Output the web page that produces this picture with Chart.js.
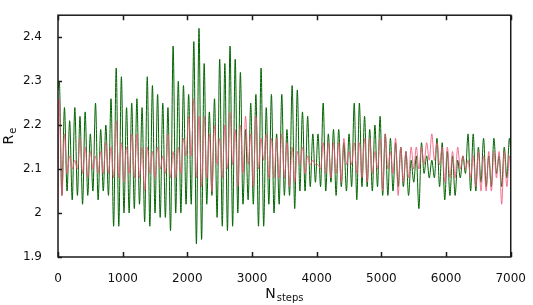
<!DOCTYPE html>
<html>
<head>
<meta charset="utf-8">
<script src="https://cdn.jsdelivr.net/npm/chart.js@4"></script>
<style>
  html, body { margin: 0; padding: 0; background: #fff; }
  #wrap { width: 533px; height: 305px; }
</style>
</head>
<body>
<div id="wrap"><canvas id="reChart"></canvas></div>
<script>
// values: one peak and one trough per ~80 steps
const stepSize = 40;
const greenStart = 2.28;
const greenPeaks = [
  2.30, 2.24, 2.21, 2.24, 2.22, 2.23, 2.18, 2.25, 2.19, 2.20, 2.26, 2.33, 2.31, 2.24, 2.25, 2.26, 2.24, 2.31, 2.29, 2.27, 2.25, 2.24, 2.38, 2.30, 2.29, 2.27, 2.39,
  2.42, 2.34, 2.23, 2.26, 2.35, 2.34, 2.38, 2.35, 2.32, 2.19, 2.25, 2.27, 2.33, 2.24, 2.27, 2.18, 2.27, 2.19, 2.29, 2.28, 2.23, 2.22, 2.18, 2.18, 2.25, 2.18, 2.19, 2.19, 2.16, 2.18, 2.25, 2.25, 2.22, 2.19, 2.20, 2.22, 2.18, 2.17,
  2.16, 2.15, 2.14, 2.12, 2.13, 2.16, 2.13, 2.12, 2.17, 2.16, 2.14, 2.13, 2.12, 2.13, 2.18, 2.18, 2.15, 2.17, 2.13, 2.17, 2.13, 2.15, 2.17
];
const greenTroughs = [
  2.04, 2.05, 2.03, 2.04, 2.02, 2.04, 2.05, 2.03, 2.05, 2.04, 1.97, 1.97, 2.00, 2.00, 2.01, 2.02, 1.98, 1.97, 2.00, 1.99, 1.99, 1.96, 2.00, 2.00, 2.02, 2.02, 1.93,
  1.94, 2.02, 2.04, 1.99, 1.97, 1.96, 1.97, 2.00, 2.02, 2.03, 2.02, 1.97, 1.97, 2.02, 2.00, 2.02, 2.04, 2.04, 2.01, 2.05, 2.05, 2.06, 2.07, 2.06, 2.05, 2.07, 2.04, 2.06, 2.05, 2.06, 2.03, 2.06, 2.06, 2.05, 2.06, 2.04, 2.04, 2.05,
  2.06, 2.06, 2.04, 2.07, 2.01, 2.09, 2.08, 2.08, 2.06, 2.03, 2.04, 2.04, 2.08, 2.09, 2.05, 2.05, 2.07, 2.06, 2.06, 2.09, 2.06, 2.08, 2.08
];
const pinkStart = 2.00;
const pinkPeaks = [
  2.26, 2.18, 2.13, 2.12, 2.17, 2.15, 2.14, 2.13, 2.14, 2.16, 2.15, 2.21, 2.16, 2.15, 2.18,
  2.18, 2.15, 2.15, 2.14, 2.15, 2.13, 2.18, 2.14, 2.15, 2.17, 2.22, 2.26, 2.22, 2.22, 2.18,
  2.20, 2.17, 2.20, 2.23, 2.19, 2.20, 2.22, 2.18, 2.22, 2.17, 2.18, 2.17, 2.17, 2.18, 2.16,
  2.15, 2.14, 2.15, 2.13, 2.12, 2.11, 2.16, 2.16, 2.16, 2.16, 2.17, 2.14, 2.16, 2.16, 2.17,
  2.17, 2.14, 2.17, 2.18, 2.14, 2.17, 2.15, 2.14, 2.15, 2.15, 2.15, 2.16, 2.18, 2.16,
  2.15, 2.15, 2.14, 2.15, 2.13, 2.12, 2.13, 2.14, 2.13, 2.14, 2.14, 2.14, 2.14, 2.13
];
const pinkTroughs = [
  2.04, 2.09, 2.10, 2.10, 2.09, 2.08, 2.10, 2.09, 2.09, 2.09, 2.08, 2.08, 2.07, 2.09, 2.08,
  2.08, 2.05, 2.09, 2.08, 2.10, 2.09, 2.08, 2.08, 2.09, 2.13, 2.13, 2.08, 2.06, 2.08, 2.05,
  2.11, 2.08, 2.10, 2.11, 2.06, 2.09, 2.11, 2.06, 2.10, 2.12, 2.08, 2.08, 2.08, 2.08, 2.06,
  2.07, 2.11, 2.09, 2.11, 2.11, 2.10, 2.09, 2.08, 2.09, 2.07, 2.11, 2.11, 2.09, 2.08, 2.07,
  2.09, 2.10, 2.05, 2.10, 2.09, 2.04, 2.07, 2.08, 2.10, 2.10, 2.11, 2.12, 2.12, 2.11,
  2.07, 2.08, 2.08, 2.10, 2.10, 2.08, 2.06, 2.05, 2.05, 2.05, 2.08, 2.02, 2.06, 2.02
];
const xTicks = [0, 1000, 2000, 3000, 4000, 5000, 6000, 7000];
const yTicks = [1.9, 2.0, 2.1, 2.2, 2.3, 2.4];

function series(start, peaks, troughs) {
  const pts = [{ x: 0, y: start }];
  for (let i = 0; i < peaks.length; i++) {
    pts.push({ x: stepSize * (2 * i) + 20, y: peaks[i] });
    pts.push({ x: stepSize * (2 * i + 1) + 20, y: troughs[i] });
  }
  return pts;
}

const FONT = 'DejaVu Sans';

const framePlugin = {
  id: 'frame',
  afterDraw(chart) {
    const { ctx, chartArea: a, scales } = chart;
    ctx.save();
    ctx.strokeStyle = '#1a1a1a';
    ctx.lineWidth = 1.5;
    ctx.strokeRect(a.left, a.top, a.right - a.left, a.bottom - a.top);
    ctx.beginPath();
    scales.x.ticks.forEach(t => {
      const px = Math.round(scales.x.getPixelForValue(t.value)) + 0.5;
      ctx.moveTo(px, a.bottom); ctx.lineTo(px, a.bottom - 5);
      ctx.moveTo(px, a.top); ctx.lineTo(px, a.top + 5);
    });
    scales.y.ticks.forEach(t => {
      const py = Math.round(scales.y.getPixelForValue(t.value)) + 0.5;
      ctx.moveTo(a.left, py); ctx.lineTo(a.left + 4, py);
    });
    ctx.stroke();

    // axis titles with subscripts
    ctx.fillStyle = '#111';
    ctx.textBaseline = 'alphabetic';
    ctx.font = '14px ' + FONT;
    const wN = ctx.measureText('N').width;
    ctx.font = '10px ' + FONT;
    const wS = ctx.measureText('steps').width;
    const cx = (a.left + a.right) / 2;
    let x0 = cx - (wN + wS + 1) / 2;
    ctx.font = '14px ' + FONT;
    ctx.fillText('N', x0, 298);
    ctx.font = '10px ' + FONT;
    ctx.fillText('steps', x0 + wN + 1, 301);

    ctx.translate(13, (a.top + a.bottom) / 2);
    ctx.rotate(-Math.PI / 2);
    ctx.font = '14px ' + FONT;
    const wR = ctx.measureText('R').width;
    ctx.font = '10px ' + FONT;
    const wE = ctx.measureText('e').width;
    const y0 = -(wR + wE + 1) / 2;
    ctx.font = '14px ' + FONT;
    ctx.fillText('R', y0, 0);
    ctx.font = '10px ' + FONT;
    ctx.fillText('e', y0 + wR + 1, 3);
    ctx.restore();
  }
};

new Chart(document.getElementById('reChart'), {
  type: 'line',
  data: {
    datasets: [
      {
        label: 'pink',
        data: series(pinkStart, pinkPeaks, pinkTroughs),
        borderColor: 'rgba(240,90,125,0.85)',
        borderWidth: 1,
        pointRadius: 0,
        cubicInterpolationMode: 'monotone',
        order: 0
      },
      {
        label: 'green',
        data: series(greenStart, greenPeaks, greenTroughs),
        borderColor: 'rgb(0,100,0)',
        borderWidth: 1,
        pointRadius: 0,
        cubicInterpolationMode: 'monotone',
        order: 1
      }
    ]
  },
  options: {
    responsive: true,
    maintainAspectRatio: false,
    animation: false,
    events: [],
    layout: { padding: { left: 0, right: 18, top: 4, bottom: 0 } },
    plugins: { legend: { display: false }, tooltip: { enabled: false } },
    scales: {
      x: {
        type: 'linear',
        min: 0,
        max: 7000,
        grid: { display: false },
        border: { display: false },
        afterBuildTicks: s => { s.ticks = xTicks.map(v => ({ value: v })); },
        afterFit: s => { s.height = 48; },
        ticks: {
          padding: 7,
          maxRotation: 0,
          color: '#111',
          font: { family: FONT, size: 12 },
          callback: v => String(v)
        }
      },
      y: {
        min: 1.9,
        max: 2.45,
        grid: { display: false },
        border: { display: false },
        afterBuildTicks: s => { s.ticks = yTicks.map(v => ({ value: v })); },
        afterFit: s => { s.width = 58; },
        ticks: {
          padding: 8,
          color: '#111',
          font: { family: FONT, size: 12 },
          callback: v => String(Number(v.toFixed(1)))
        }
      }
    }
  },
  plugins: [framePlugin]
});
</script>
</body>
</html>
